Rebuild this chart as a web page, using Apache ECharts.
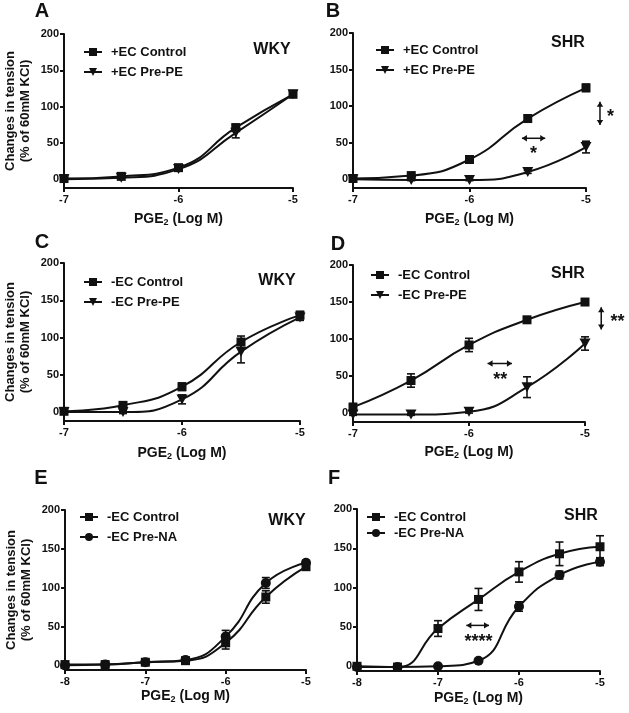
<!DOCTYPE html>
<html><head><meta charset="utf-8">
<script src="https://cdn.jsdelivr.net/npm/echarts@6/dist/echarts.min.js"></script>
<style>html,body{margin:0;padding:0;background:#fff}#c{width:629px;height:713px}</style>
</head><body><div id="c"></div>
<script>
// ---------- data ----------
const dosesAD = [-7, -6.5, -6, -5.5, -5];
const dosesEF = [-8, -7.5, -7, -6.5, -6, -5.5, -5];
const xTicksAD = [-7, -6, -5];
const xTicksEF = [-8, -7, -6, -5];
const yTickValues = [0, 50, 100, 150, 200];

const aControl = [1, 4, 16, 71, 117];      const aControlErr = [1, 1, 2, 5, 3];
const aPrePE   = [0, 2, 14, 64, 117];      const aPrePEErr   = [1, 1, 2, 7, 3];
const bControl = [1, 5, 27, 83, 125];      const bControlErr = [1, 2, 3, 5, 5];
const bPrePE   = [0, -1, -1, 10, 44];      const bPrePEErr   = [1, 1, 1, 2, 8];
const cControl = [1, 9, 34, 94, 130];      const cControlErr = [1, 2, 5, 8, 5];
const cPrePE   = [0, 0, 17, 81, 127];      const cPrePEErr   = [1, 2, 6, 15, 4];
const dControl = [8, 44, 92, 126, 150];    const dControlErr = [5, 9, 9, 4, 4];
const dPrePE   = [-2, -2, 2, 35, 94];      const dPrePEErr   = [1, 1, 2, 14, 9];
const eControl = [1, 1, 4, 6, 29, 88, 127];   const eControlErr = [1, 1, 2, 2, 8, 8, 4];
const ePreNA   = [0, 1, 4, 7, 37, 106, 132];  const ePreNAErr   = [1, 1, 1, 2, 8, 7, 3];
const fControl = [0, -1, 48, 85, 120, 143, 152]; const fControlErr = [2, 1, 10, 14, 13, 15, 14];
const fPreNA   = [-1, -1, 0, 7, 76, 116, 133];   const fPreNAErr   = [1, 1, 1, 2, 6, 5, 5];

const seriesNames = {
  ctrlPlus: '+EC Control', prePEPlus: '+EC Pre-PE',
  ctrlMinus: '-EC Control', prePEMinus: '-EC Pre-PE', preNAMinus: '-EC Pre-NA'
};
const panelLetters = ['A', 'B', 'C', 'D', 'E', 'F'];
const strainLabels = ['WKY', 'SHR', 'WKY', 'SHR', 'WKY', 'SHR'];

// annotations in data coordinates
const annotations = [
  {p: 1, dir: 'h', from: [-5.55, 56], to: [-5.35, 56], text: '*', at: [-5.45, 40]},
  {p: 1, dir: 'v', from: [-4.88, 106], to: [-4.88, 74], text: '*', at: [-4.79, 90]},
  {p: 3, dir: 'h', from: [-5.84, 67], to: [-5.63, 67], text: '**', at: [-5.73, 50]},
  {p: 3, dir: 'v', from: [-4.86, 143], to: [-4.86, 113], text: '**', at: [-4.72, 128]},
  {p: 5, dir: 'h', from: [-6.65, 52], to: [-6.37, 52], text: '****', at: [-6.5, 36]}
];

// ---------- layout / style ----------
const INK = '#111';
const FONT = '"Liberation Sans", Arial, sans-serif';
const triDown = 'path://M0,0L10,0L5,9Z';
const layout = [
  {grid: {left: 64, top: 34, width: 229, height: 154}, ymin: -12, nameGap: 23, legend: {left: 83, top: 45, gap: 6}, letter: [42, 11], strain: [272, 50], ytitle: true},
  {grid: {left: 353, top: 33, width: 233, height: 155}, ymin: -12, nameGap: 23, legend: {left: 375, top: 43, gap: 6}, letter: [333, 11], strain: [568, 43], ytitle: false},
  {grid: {left: 64, top: 263, width: 236, height: 158}, ymin: -12, nameGap: 24, legend: {left: 83, top: 275, gap: 6}, letter: [42, 242], strain: [277, 281], ytitle: true},
  {grid: {left: 353, top: 265, width: 232, height: 157}, ymin: -12, nameGap: 22, legend: {left: 370, top: 268, gap: 6}, letter: [338, 244], strain: [568, 274], ytitle: false},
  {grid: {left: 65, top: 510, width: 241, height: 160}, ymin: -6, nameGap: 18, legend: {left: 79, top: 510, gap: 6}, letter: [41, 478], strain: [287, 521], ytitle: true},
  {grid: {left: 357, top: 509, width: 243, height: 162}, ymin: -6, nameGap: 19, legend: {left: 366, top: 510, gap: 2}, letter: [334, 478], strain: [581, 516], ytitle: false}
];

const panelSeries = [
  {doses: dosesAD, ticks: xTicksAD, a: [seriesNames.ctrlPlus, aControl, aControlErr, 'rect'], b: [seriesNames.prePEPlus, aPrePE, aPrePEErr, triDown]},
  {doses: dosesAD, ticks: xTicksAD, a: [seriesNames.ctrlPlus, bControl, bControlErr, 'rect'], b: [seriesNames.prePEPlus, bPrePE, bPrePEErr, triDown]},
  {doses: dosesAD, ticks: xTicksAD, a: [seriesNames.ctrlMinus, cControl, cControlErr, 'rect'], b: [seriesNames.prePEMinus, cPrePE, cPrePEErr, triDown]},
  {doses: dosesAD, ticks: xTicksAD, a: [seriesNames.ctrlMinus, dControl, dControlErr, 'rect'], b: [seriesNames.prePEMinus, dPrePE, dPrePEErr, triDown]},
  {doses: dosesEF, ticks: xTicksEF, a: [seriesNames.ctrlMinus, eControl, eControlErr, 'rect'], b: [seriesNames.preNAMinus, ePreNA, ePreNAErr, 'circle']},
  {doses: dosesEF, ticks: xTicksEF, a: [seriesNames.ctrlMinus, fControl, fControlErr, 'rect'], b: [seriesNames.preNAMinus, fPreNA, fPreNAErr, 'circle']}
];

function errRender(params, api) {
  const x = api.value(0), lo = api.value(1), hi = api.value(2);
  const p1 = api.coord([x, hi]), p2 = api.coord([x, lo]);
  const w = 4, st = {stroke: INK, lineWidth: 1.6};
  return {type: 'group', children: [
    {type: 'line', shape: {x1: p1[0], y1: p1[1], x2: p2[0], y2: p2[1]}, style: st},
    {type: 'line', shape: {x1: p1[0] - w, y1: p1[1], x2: p1[0] + w, y2: p1[1]}, style: st},
    {type: 'line', shape: {x1: p2[0] - w, y1: p2[1], x2: p2[0] + w, y2: p2[1]}, style: st}
  ]};
}

const grids = [], xAxes = [], yAxes = [], series = [], legends = [], graphics = [];
layout.forEach((L, i) => {
  const P = panelSeries[i];
  grids.push(L.grid);
  xAxes.push({
    type: 'value', gridIndex: i, min: P.ticks[0], max: P.ticks[P.ticks.length - 1], interval: 1,
    name: 'PGE{sub|2} (Log M)', nameLocation: 'middle', nameGap: L.nameGap,
    nameTextStyle: {fontFamily: FONT, fontSize: 14, fontWeight: 'bold', color: INK, lineHeight: 16,
      rich: {sub: {fontFamily: FONT, fontSize: 9, fontWeight: 'bold', color: INK, lineHeight: 16, verticalAlign: 'bottom', padding: [7, 0, 0, 0]}}},
    axisLine: {onZero: false, lineStyle: {color: INK, width: 2}},
    axisTick: {length: 4, lineStyle: {color: INK, width: 2}},
    axisLabel: {fontFamily: FONT, fontSize: 11, fontWeight: 'bold', color: INK, margin: 6},
    splitLine: {show: false}
  });
  yAxes.push({
    type: 'value', gridIndex: i, min: L.ymin, max: 200,
    name: L.ytitle ? 'Changes in tension\n(% of 60mM KCl)' : '', nameLocation: 'middle', nameRotate: 90, nameGap: 31,
    nameTextStyle: {fontFamily: FONT, fontSize: 13, fontWeight: 'bold', color: INK, lineHeight: 15},
    axisLine: {onZero: false, lineStyle: {color: INK, width: 2}},
    axisTick: {length: 4, customValues: yTickValues, lineStyle: {color: INK, width: 2}},
    axisLabel: {customValues: yTickValues, fontFamily: FONT, fontSize: 11, fontWeight: 'bold', color: INK, margin: 5},
    splitLine: {show: false}
  });
  [P.a, P.b].forEach((s, k) => {
    series.push({
      type: 'custom', name: 'err' + i + k, xAxisIndex: i, yAxisIndex: i, renderItem: errRender,
      encode: {x: 0, y: [1, 2]}, z: 2, silent: true,
      data: P.doses.map((d, j) => [d, s[1][j] - s[2][j], s[1][j] + s[2][j]])
    });
  });
  [P.a, P.b].forEach((s) => {
    series.push({
      type: 'line', name: s[0], xAxisIndex: i, yAxisIndex: i,
      data: P.doses.map((d, j) => [d, s[1][j]]),
      smooth: 0.5, clip: false,
      symbol: s[3], symbolSize: s[3] === 'circle' ? 10 : (s[3] === 'rect' ? 9 : [11, 10]),
      lineStyle: {color: INK, width: 2}, itemStyle: {color: INK}, z: 3, animation: false
    });
  });
  legends.push({
    orient: 'vertical', left: L.legend.left, top: L.legend.top, itemGap: L.legend.gap, padding: 0,
    itemWidth: 18, itemHeight: 10, selectedMode: false,
    data: [P.a[0], P.b[0]],
    textStyle: {fontFamily: FONT, fontSize: 13, fontWeight: 'bold', color: INK, lineHeight: 14, padding: [0, 0, 0, 4]}
  });
  graphics.push({type: 'text', x: L.letter[0], y: L.letter[1], style: {text: panelLetters[i], font: 'bold 20px ' + FONT, fill: INK, textAlign: 'center', textVerticalAlign: 'middle'}});
  graphics.push({type: 'text', x: L.strain[0], y: L.strain[1], style: {text: strainLabels[i], font: 'bold 16px ' + FONT, fill: INK, textAlign: 'center', textVerticalAlign: 'middle'}});
});

const chart = echarts.init(document.getElementById('c'), null, {renderer: 'canvas'});
chart.setOption({
  animation: false, backgroundColor: '#fff',
  grid: grids, xAxis: xAxes, yAxis: yAxes, series: series, legend: legends, graphic: graphics
});

// annotations: arrows and significance stars, positioned via the axes
function arrowHead(tip, dir) {
  const s = 5, h = 3.2;
  let pts;
  if (dir === 'l') pts = [[tip[0], tip[1]], [tip[0] + s, tip[1] - h], [tip[0] + s, tip[1] + h]];
  if (dir === 'r') pts = [[tip[0], tip[1]], [tip[0] - s, tip[1] - h], [tip[0] - s, tip[1] + h]];
  if (dir === 'u') pts = [[tip[0], tip[1]], [tip[0] - h, tip[1] + s], [tip[0] + h, tip[1] + s]];
  if (dir === 'd') pts = [[tip[0], tip[1]], [tip[0] - h, tip[1] - s], [tip[0] + h, tip[1] - s]];
  return {type: 'polygon', shape: {points: pts}, style: {fill: INK}};
}
annotations.forEach(a => {
  const p1 = chart.convertToPixel({gridIndex: a.p}, a.from);
  const p2 = chart.convertToPixel({gridIndex: a.p}, a.to);
  const pt = chart.convertToPixel({gridIndex: a.p}, a.at);
  graphics.push({type: 'line', shape: {x1: p1[0], y1: p1[1], x2: p2[0], y2: p2[1]}, style: {stroke: INK, lineWidth: 1.5}});
  if (a.dir === 'h') { graphics.push(arrowHead(p1, 'l')); graphics.push(arrowHead(p2, 'r')); }
  else { graphics.push(arrowHead(p1, 'u')); graphics.push(arrowHead(p2, 'd')); }
  graphics.push({type: 'text', x: pt[0], y: pt[1] + 4, style: {text: a.text, font: 'bold 18px ' + FONT, fill: INK, textAlign: 'center', textVerticalAlign: 'middle'}});
});
chart.setOption({graphic: graphics});
</script></body></html>
